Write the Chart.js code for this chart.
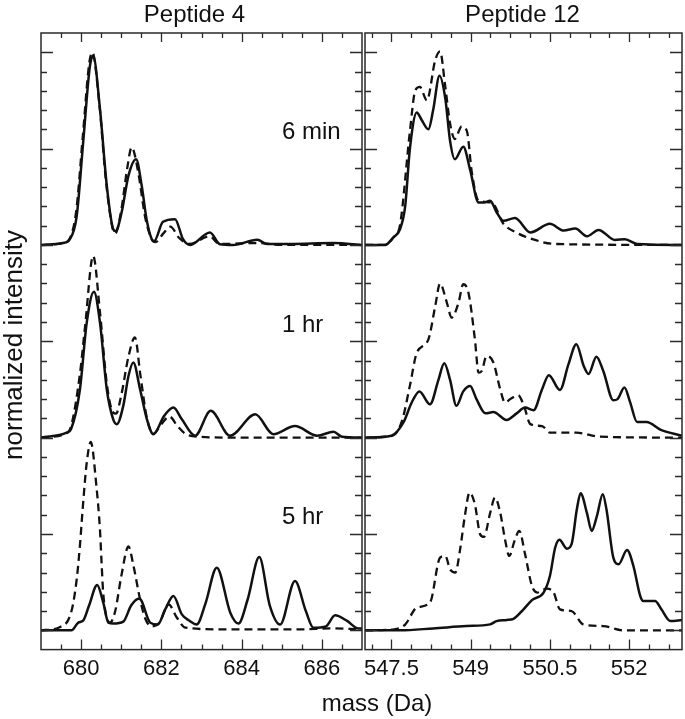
<!DOCTYPE html>
<html>
<head>
<meta charset="utf-8">
<script src="https://cdn.jsdelivr.net/npm/chart.js@4/dist/chart.umd.min.js"></script>
<style>
  html, body { margin: 0; padding: 0; background: #fff; }
  #wrap { position: relative; width: 685px; height: 719px; }
  #wrap canvas { position: absolute; left: 0; top: 0; }
</style>
</head>
<body>
<div id="wrap">
  <canvas id="p4" width="685" height="719"></canvas>
  <canvas id="p12" width="685" height="719"></canvas>
</div>
<script>
// Mass spectra, three time points stacked per peptide.
const timeLabels = ['6 min', '1 hr', '5 hr'];
const rowOffsets = [20, 10, 0];   // each row is shifted up by 10 units

// Peptide 4 — [mass, normalized intensity]
const p4Solid6min = [[679,0],[679.55,0.1],[679.72,0.3],[679.89,1.5],[680.05,5.3],[680.22,9.3],[680.3,9.8],[680.47,7.05],[680.64,3.07],[680.8,0.82],[680.86,0.72],[681.01,1.7],[681.18,3.6],[681.37,4.45],[681.51,3.07],[681.63,1.34],[681.76,0.3],[681.82,0.2],[682.04,1.2],[682.34,1.34],[682.54,0.3],[682.72,0],[683.21,0.65],[683.46,0.04],[683.79,0],[684.39,0.27],[684.63,0.05],[685.2,0.05],[686.3,0.1],[687,0]];
const p4Dash6min = [[679,0],[679.55,0.1],[679.72,0.35],[679.88,1.8],[680.04,5.6],[680.2,9.4],[680.28,10.0],[680.45,7.4],[680.62,3.3],[680.78,0.9],[680.85,0.6],[681.0,1.8],[681.15,4.0],[681.26,5.07],[681.42,3.8],[681.6,1.4],[681.76,0.3],[681.85,0.15],[682.05,0.6],[682.22,0.95],[682.45,0.35],[682.7,0.05],[683.2,0.45],[683.45,0.05],[684.4,0.1],[685,0],[687,0]];
const p4Solid1hr = [[679,0],[679.64,0.26],[679.75,0.45],[679.97,2.5],[680.14,5.97],[680.32,7.57],[680.47,5.97],[680.64,2.5],[680.8,0.95],[680.89,0.7],[681.05,1.65],[681.18,3.2],[681.3,3.9],[681.47,2.5],[681.64,0.95],[681.8,0.18],[682.07,1.13],[682.3,1.56],[682.51,0.95],[682.84,0.1],[683.23,1.39],[683.71,0.1],[684.34,1.21],[684.79,0.18],[685.33,0.6],[685.88,0.1],[686.29,0.3],[686.5,0.05],[687,0]];
const p4Dash1hr = [[679,0],[679.6,0.2],[679.75,0.6],[679.97,3.3],[680.1,5.8],[680.3,9.43],[680.47,6.5],[680.64,2.8],[680.8,1.3],[680.87,1.25],[681.0,2.2],[681.18,4.2],[681.34,5.2],[681.48,3.2],[681.64,1.0],[681.8,0.2],[682.0,0.7],[682.2,1.1],[682.4,0.6],[682.6,0.2],[682.9,0.05],[684,0],[687,0]];
const p4Solid5hr = [[679,0],[679.76,0],[679.93,0.4],[680.05,0.5],[680.2,1.3],[680.4,2.35],[680.55,1.45],[680.68,0.4],[680.8,0.35],[681.05,0.45],[681.25,1.3],[681.45,1.65],[681.72,0.4],[681.91,0.3],[682.1,1.1],[682.3,1.78],[682.51,0.83],[682.7,0.5],[682.88,0.3],[683.1,1.4],[683.38,3.25],[683.72,0.9],[683.92,0.35],[684.15,1.6],[684.44,3.8],[684.7,1.3],[684.96,0.3],[685.33,2.56],[685.6,1.0],[685.79,0.13],[686.1,0.2],[686.33,0.78],[686.62,0.5],[686.91,0.1],[687,0.1]];
const p4Dash5hr = [[679,0],[679.45,0.15],[679.76,1.0],[679.89,2.65],[679.97,4.4],[680.05,6.6],[680.14,8.7],[680.24,9.78],[680.38,7.5],[680.47,5.2],[680.51,3.5],[680.55,1.95],[680.72,0.4],[680.85,1.0],[681.0,2.8],[681.18,4.35],[681.3,3.4],[681.47,1.6],[681.6,0.6],[681.76,0.2],[681.95,0.4],[682.18,1.35],[682.38,0.68],[682.6,0.14],[683.5,0.05],[684.5,0.05],[685.5,0.05],[686.2,0.1],[687,0.05]];

// Peptide 12 — [mass, normalized intensity]
const p12Solid6min = [[547,0],[547.38,0],[547.54,0.4],[547.66,0.8],[547.76,2.0],[547.85,5.0],[547.98,6.88],[548.07,6.5],[548.2,6.0],[548.29,7.0],[548.41,8.78],[548.52,7.6],[548.61,5.4],[548.7,4.45],[548.86,5.1],[548.99,3.9],[549.15,2.2],[549.25,2.2],[549.37,2.3],[549.49,1.7],[549.62,1.25],[549.84,1.4],[550.13,0.65],[550.5,1.1],[550.76,0.75],[550.98,0.85],[551.2,0.45],[551.42,0.78],[551.73,0.26],[551.92,0.3],[552.15,0.05],[553,0]];
const p12Dash6min = [[547,0],[547.38,0],[547.54,0.4],[547.66,1.0],[547.85,5.9],[547.95,8.0],[548.04,8.2],[548.17,7.5],[548.33,9.6],[548.42,10.05],[548.52,8.2],[548.61,6.3],[548.7,5.5],[548.83,6.15],[548.93,5.9],[549.02,3.8],[549.15,2.3],[549.4,2.2],[549.62,1.1],[549.86,0.65],[550.17,0.3],[550.6,0.05],[553,0]];
const p12Solid1hr = [[547,0],[547.5,0.1],[547.73,0.8],[547.88,1.8],[548.03,2.4],[548.23,1.73],[548.39,3.0],[548.5,3.86],[548.61,3.0],[548.73,1.65],[548.86,2.4],[548.99,2.68],[549.11,2.0],[549.28,1.26],[549.43,1.33],[549.68,0.92],[549.87,1.26],[550.03,1.56],[550.19,1.42],[550.35,2.5],[550.48,3.24],[550.69,2.47],[550.85,3.8],[551.0,4.85],[551.14,3.72],[551.23,3.3],[551.38,4.2],[551.51,3.46],[551.7,1.94],[551.78,2.0],[551.91,2.6],[552.02,1.82],[552.15,0.81],[552.33,0.81],[552.6,0.4],[553,0.1]];
const p12Dash1hr = [[547,0],[547.52,0.1],[547.7,0.87],[547.85,2.7],[547.98,4.4],[548.2,5.1],[548.33,6.84],[548.42,8.0],[548.55,7.0],[548.64,6.23],[548.77,7.0],[548.86,7.96],[548.96,7.5],[549.08,5.1],[549.15,3.37],[549.21,3.46],[549.3,4.24],[549.43,3.9],[549.56,2.5],[549.65,1.82],[549.75,2.0],[549.9,2.2],[550.01,1.64],[550.13,0.7],[550.35,0.6],[550.5,0.26],[551.0,0.26],[551.44,0.05],[553,0]];
const p12Solid5hr = [[547,0],[547.66,0],[548.29,0.1],[548.92,0.22],[549.37,0.31],[549.49,0.48],[549.68,0.54],[549.81,0.6],[550.0,1.09],[550.16,1.57],[550.38,1.96],[550.5,2.82],[550.6,4.3],[550.68,4.7],[550.82,4.24],[550.91,4.47],[551.01,6.28],[551.08,7.11],[551.2,6.1],[551.29,5.16],[551.39,5.94],[551.5,7.06],[551.57,6.28],[551.7,3.77],[551.8,3.43],[551.96,4.17],[552.08,3.34],[552.21,1.78],[552.27,1.52],[552.49,1.52],[552.61,1.09],[552.78,0.48],[553,0.54]];
const p12Dash5hr = [[547,0],[547.55,0.05],[547.76,0.3],[547.98,1.18],[548.23,1.44],[548.42,3.77],[548.52,3.86],[548.61,3.17],[548.71,3.0],[548.8,4.2],[548.89,5.94],[548.98,7.15],[549.08,6.54],[549.18,4.98],[549.25,4.85],[549.37,6.1],[549.46,6.89],[549.56,6.1],[549.65,4.72],[549.73,3.86],[549.83,4.64],[549.92,5.16],[550.03,3.95],[550.16,2.3],[550.26,1.96],[550.44,2.16],[550.57,1.96],[550.69,1.09],[550.91,1.0],[551.13,0.31],[551.51,0.22],[551.89,0],[553,0]];

// Axis ranges and labelled ticks
const p4Range = [679, 687];
const p4LabelTicks = [680, 682, 684, 686];
const p4MinorStep = 0.5;
const p12Range = [547, 553];
const p12LabelTicks = [547.5, 549, 550.5, 552];
const p12MinorStep = 0.375;
const yRange = [-1, 31];

const FONT = "'Liberation Sans', Arial, Helvetica, sans-serif";
const INK = '#111';

function series(pts, row, dashed) {
  return {
    data: pts.map(([x, y]) => ({ x, y: y + rowOffsets[row] })),
    borderColor: INK,
    borderWidth: dashed ? 2.3 : 2.5,
    borderDash: dashed ? [8, 5] : [],
    cubicInterpolationMode: 'monotone',
    pointRadius: 0,
    fill: false,
  };
}

function tickValues(range, anchor, step) {
  const out = [];
  let v = anchor;
  while (v - step >= range[0] - 1e-9) v -= step;
  for (; v <= range[1] + 1e-9; v += step) out.push(+v.toFixed(4));
  return out;
}

// Frame, inward tick marks and the panel texts.
const framePlugin = {
  id: 'frame',
  afterDraw(chart, args, opts) {
    const { ctx, chartArea: a, scales: { x, y } } = chart;
    ctx.save();
    ctx.strokeStyle = '#2a2a2a';
    ctx.lineWidth = 1.5;
    ctx.strokeRect(a.left, a.top, a.right - a.left, a.bottom - a.top);

    ctx.lineWidth = 1.3;
    ctx.beginPath();
    x.ticks.forEach(t => {
      const px = Math.round(x.getPixelForValue(t.value)) + 0.5;
      if (px <= a.left + 2 || px >= a.right - 2) return;
      const major = opts.labels.some(l => Math.abs(l - t.value) < 1e-6);
      ctx.moveTo(px, a.top); ctx.lineTo(px, a.top + (major ? 9 : 5));
      ctx.moveTo(px, a.bottom); ctx.lineTo(px, a.bottom - (major ? 10 : 5));
    });
    for (let v = 0; v <= 30; v++) {
      const py = Math.round(y.getPixelForValue(v)) + 0.5;
      const major = v % 5 === 0;
      ctx.moveTo(a.left, py); ctx.lineTo(a.left + (major ? 12 : 6), py);
      ctx.moveTo(a.right, py); ctx.lineTo(a.right - (major ? 12 : 7), py);
    }
    ctx.stroke();

    ctx.fillStyle = INK;
    ctx.font = '24px ' + FONT;
    ctx.textAlign = 'center';
    ctx.textBaseline = 'alphabetic';
    ctx.fillText(opts.title, (a.left + a.right) / 2 + opts.titleShift, 22);

    if (opts.rowText) {
      ctx.font = '24px ' + FONT;
      ctx.textAlign = 'left';
      timeLabels.forEach((t, i) => {
        ctx.fillText(t, a.right - 80, y.getPixelForValue(rowOffsets[i] + 5.5));
      });
      ctx.font = '24px ' + FONT;
      ctx.textAlign = 'center';
      ctx.fillText('mass (Da)', 377, 711);
      ctx.save();
      ctx.translate(15, 345);
      ctx.rotate(-Math.PI / 2);
      ctx.textBaseline = 'middle';
      ctx.font = '26px ' + FONT;
      ctx.fillText('normalized intensity', 0, 0);
      ctx.restore();
    }
    ctx.restore();
  }
};

function makePanel(id, sets, range, labels, minorStep, pad, frameOpts) {
  const ticks = tickValues(range, labels[0], minorStep);
  return new Chart(document.getElementById(id), {
    type: 'line',
    data: { datasets: sets },
    options: {
      responsive: false,
      animation: false,
      events: [],
      layout: { padding: pad },
      plugins: {
        legend: { display: false },
        tooltip: { enabled: false },
        frame: { ...frameOpts, labels },
      },
      scales: {
        x: {
          type: 'linear',
          min: range[0],
          max: range[1],
          grid: { display: false, drawTicks: false },
          border: { display: false },
          afterBuildTicks: s => { s.ticks = ticks.map(v => ({ value: v })); },
          ticks: {
            autoSkip: false,
            maxRotation: 0,
            padding: 6,
            color: INK,
            font: { family: FONT, size: 22 },
            callback: v => labels.some(l => Math.abs(l - v) < 1e-6) ? String(v) : '',
          },
        },
        y: { display: false, min: yRange[0], max: yRange[1] },
      },
    },
    plugins: [framePlugin],
  });
}

makePanel('p4', [
  series(p4Dash6min, 0, true), series(p4Solid6min, 0, false),
  series(p4Dash1hr, 1, true), series(p4Solid1hr, 1, false),
  series(p4Dash5hr, 2, true), series(p4Solid5hr, 2, false),
], p4Range, p4LabelTicks, p4MinorStep,
  { left: 41, right: 685 - 362, top: 33, bottom: 31 },
  { title: 'Peptide 4', titleShift: -7, rowText: true });

makePanel('p12', [
  series(p12Dash6min, 0, true), series(p12Solid6min, 0, false),
  series(p12Dash1hr, 1, true), series(p12Solid1hr, 1, false),
  series(p12Dash5hr, 2, true), series(p12Solid5hr, 2, false),
], p12Range, p12LabelTicks, p12MinorStep,
  { left: 365, right: 3, top: 33, bottom: 31 },
  { title: 'Peptide 12', titleShift: -1, rowText: false });
</script>
</body>
</html>
